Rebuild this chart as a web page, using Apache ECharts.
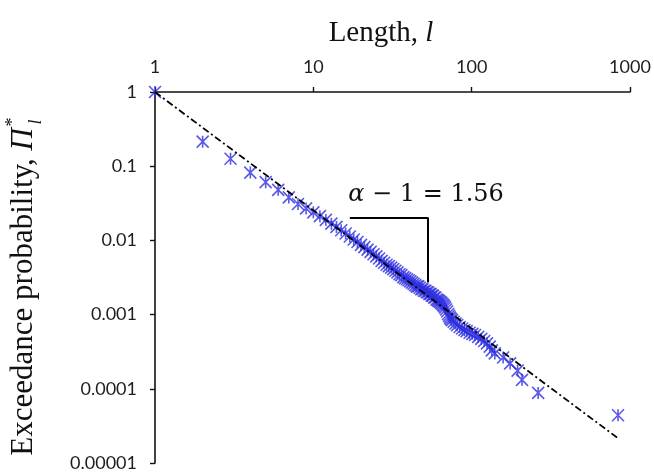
<!DOCTYPE html>
<html>
<head>
<meta charset="utf-8">
<script src="https://cdn.jsdelivr.net/npm/echarts@6/dist/echarts.min.js"></script>
<style>
  html, body { margin: 0; padding: 0; background: #ffffff; }
  #chart { width: 654px; height: 474px; }
</style>
</head>
<body>
<div id="chart"></div>
<script>
  // length l and exceedance probability
  const lengths = [
    1, 2, 3, 4, 5, 6, 7, 8, 9, 10,
    11, 12, 13, 14, 15, 16, 17, 18, 19, 20,
    21, 22, 23, 24, 25, 26, 27, 28, 29, 30,
    31, 32, 33, 34, 35, 36, 37, 38, 39, 40,
    41, 42, 43, 44, 45, 46, 47, 48, 49, 50,
    51, 52, 53, 54, 55, 56, 57, 58, 59, 60,
    61, 62, 63, 64, 65, 66, 67, 68, 69, 70,
    71, 72, 73, 74, 75, 77, 79, 81, 84, 87,
    90, 93, 97, 101, 105, 110, 115, 120, 125, 130,
    134, 140, 158, 175, 195, 208, 263, 840
  ]
  const probs = [
    1, 0.214, 0.126, 0.082, 0.061, 0.048, 0.038, 0.031, 0.027, 0.0239,
    0.0212, 0.0189, 0.0168, 0.0152, 0.0137, 0.0124, 0.0113, 0.0103, 0.0095, 0.0087,
    0.0081, 0.0075, 0.0070, 0.0065, 0.0061, 0.0057, 0.0053, 0.0050, 0.0047, 0.0045,
    0.0043, 0.0041, 0.0039, 0.0037, 0.0035, 0.0034, 0.0032, 0.0031, 0.0030, 0.0029,
    0.0028, 0.0027, 0.0026, 0.0025, 0.0024, 0.0024, 0.0023, 0.0022, 0.0022, 0.0021,
    0.0021, 0.0020, 0.0020, 0.0019, 0.0019, 0.0018, 0.0018, 0.0017, 0.0017, 0.0016,
    0.00157, 0.00153, 0.00149, 0.00145, 0.0014, 0.00135, 0.0013, 0.00124, 0.00117, 0.0011,
    0.00102, 0.00096, 0.00091, 0.00087, 0.00084, 0.0008, 0.00076, 0.00072, 0.00068, 0.00065,
    0.00062, 0.0006, 0.00057, 0.00055, 0.00053, 0.0005, 0.00047, 0.00044, 0.00041, 0.00037,
    0.00033, 0.0003, 0.000264, 0.00022, 0.000176, 0.000132, 0.000088, 0.000044
  ]

  // power-law fit line (dash-dot)
  const fitL = [1, 829]
  const fitP = [1, 0.000022]

  // slope bracket
  const bracketL = [17, 53, 53]
  const bracketP = [0.02, 0.02, 0.0027]

  const xTickLabels = ['1', '10', '100', '1000']
  const yTickLabels = ['0.00001', '0.0001', '0.001', '0.01', '0.1', '1']

  const slopeText = '{a|α} − 1 = 1.56'

  const chart = echarts.init(document.getElementById('chart'), null, { renderer: 'canvas' })

  const labelFont = {
    color: '#1e1e1e',
    fontFamily: 'Lato',
    fontSize: 18
  }

  chart.setOption({
    animation: false,
    grid: {
      left: 155,
      right: 24,
      top: 92,
      bottom: 11
    },
    xAxis: {
      type: 'log',
      logBase: 10,
      min: 1,
      max: 1000,
      position: 'top',
      axisLine: { lineStyle: { color: '#111111', width: 1.6 } },
      axisTick: { inside: false, length: 5, lineStyle: { color: '#111111', width: 1.4 } },
      axisLabel: Object.assign({
        margin: 16,
        formatter: function (v) {
          return xTickLabels[Math.round(Math.log10(v))]
        }
      }, labelFont),
      splitLine: { show: false },
      minorTick: { show: false }
    },
    yAxis: {
      type: 'log',
      logBase: 10,
      min: 0.00001,
      max: 1,
      axisLine: { lineStyle: { color: '#111111', width: 1.6 } },
      axisTick: { inside: false, length: 5, lineStyle: { color: '#111111', width: 1.4 } },
      axisLabel: Object.assign({
        margin: 18,
        formatter: function (v) {
          return yTickLabels[5 + Math.round(Math.log10(v))]
        }
      }, labelFont),
      splitLine: { show: false }
    },
    series: [
      {
        name: 'data',
        type: 'scatter',
        symbol: 'path://M0,0L10,10M10,0L0,10M5,0L5,10',
        symbolSize: 12,
        itemStyle: {
          color: 'rgba(0,0,0,0)',
          borderColor: '#3030e2',
          borderWidth: 1.6
        },
        z: 2,
        data: lengths.map(function (l, i) { return [l, probs[i]] })
      },
      {
        name: 'fit',
        type: 'line',
        showSymbol: false,
        symbol: 'none',
        lineStyle: { color: '#000000', width: 1.8, type: [7, 3, 2, 3] },
        z: 3,
        data: fitL.map(function (l, i) { return [l, fitP[i]] })
      },
      {
        name: 'bracket',
        type: 'line',
        symbol: 'none',
        lineStyle: { color: '#000000', width: 2 },
        z: 3,
        data: bracketL.map(function (l, i) { return [l, bracketP[i]] })
      }
    ],
    graphic: [
      {
        type: 'text',
        x: 381,
        y: 33,
        style: {
          text: '{a|Length, }{b|l}',
          align: 'center',
          verticalAlign: 'middle',
          fill: '#111111',
          rich: {
            a: { fontFamily: 'Liberation Serif', fontSize: 29, color: '#111111' },
            b: { fontFamily: 'Liberation Serif', fontSize: 29, fontStyle: 'italic', color: '#111111' }
          }
        }
      },
      {
        type: 'group',
        x: 24,
        y: 128,
        rotation: Math.PI / 2,
        children: [
          {
            type: 'text',
            x: 0,
            y: 0,
            style: {
              text: '{a|Exceedance probability, }{b|Π}',
              align: 'right',
              verticalAlign: 'middle',
              fill: '#111111',
              rich: {
                a: { fontFamily: 'Liberation Serif', fontSize: 31, color: '#111111' },
                b: { fontFamily: 'Liberation Serif', fontSize: 31, fontStyle: 'italic', color: '#111111' }
              }
            }
          },
          {
            type: 'text',
            x: 6,
            y: -11,
            style: {
              text: '*',
              font: '18px "Liberation Serif"',
              align: 'center',
              verticalAlign: 'middle',
              fill: '#111111'
            }
          },
          {
            type: 'text',
            x: 6,
            y: 12,
            style: {
              text: 'l',
              font: 'italic 18px "Liberation Serif"',
              align: 'center',
              verticalAlign: 'middle',
              fill: '#111111'
            }
          }
        ]
      },
      {
        type: 'text',
        x: 426,
        y: 195,
        style: {
          text: slopeText,
          align: 'center',
          verticalAlign: 'middle',
          fill: '#111111',
          font: '24px "DejaVu Serif"',
          rich: {
            a: { fontFamily: 'DejaVu Serif', fontSize: 24, fontStyle: 'italic', color: '#111111' }
          }
        }
      }
    ]
  })
</script>
</body>
</html>
